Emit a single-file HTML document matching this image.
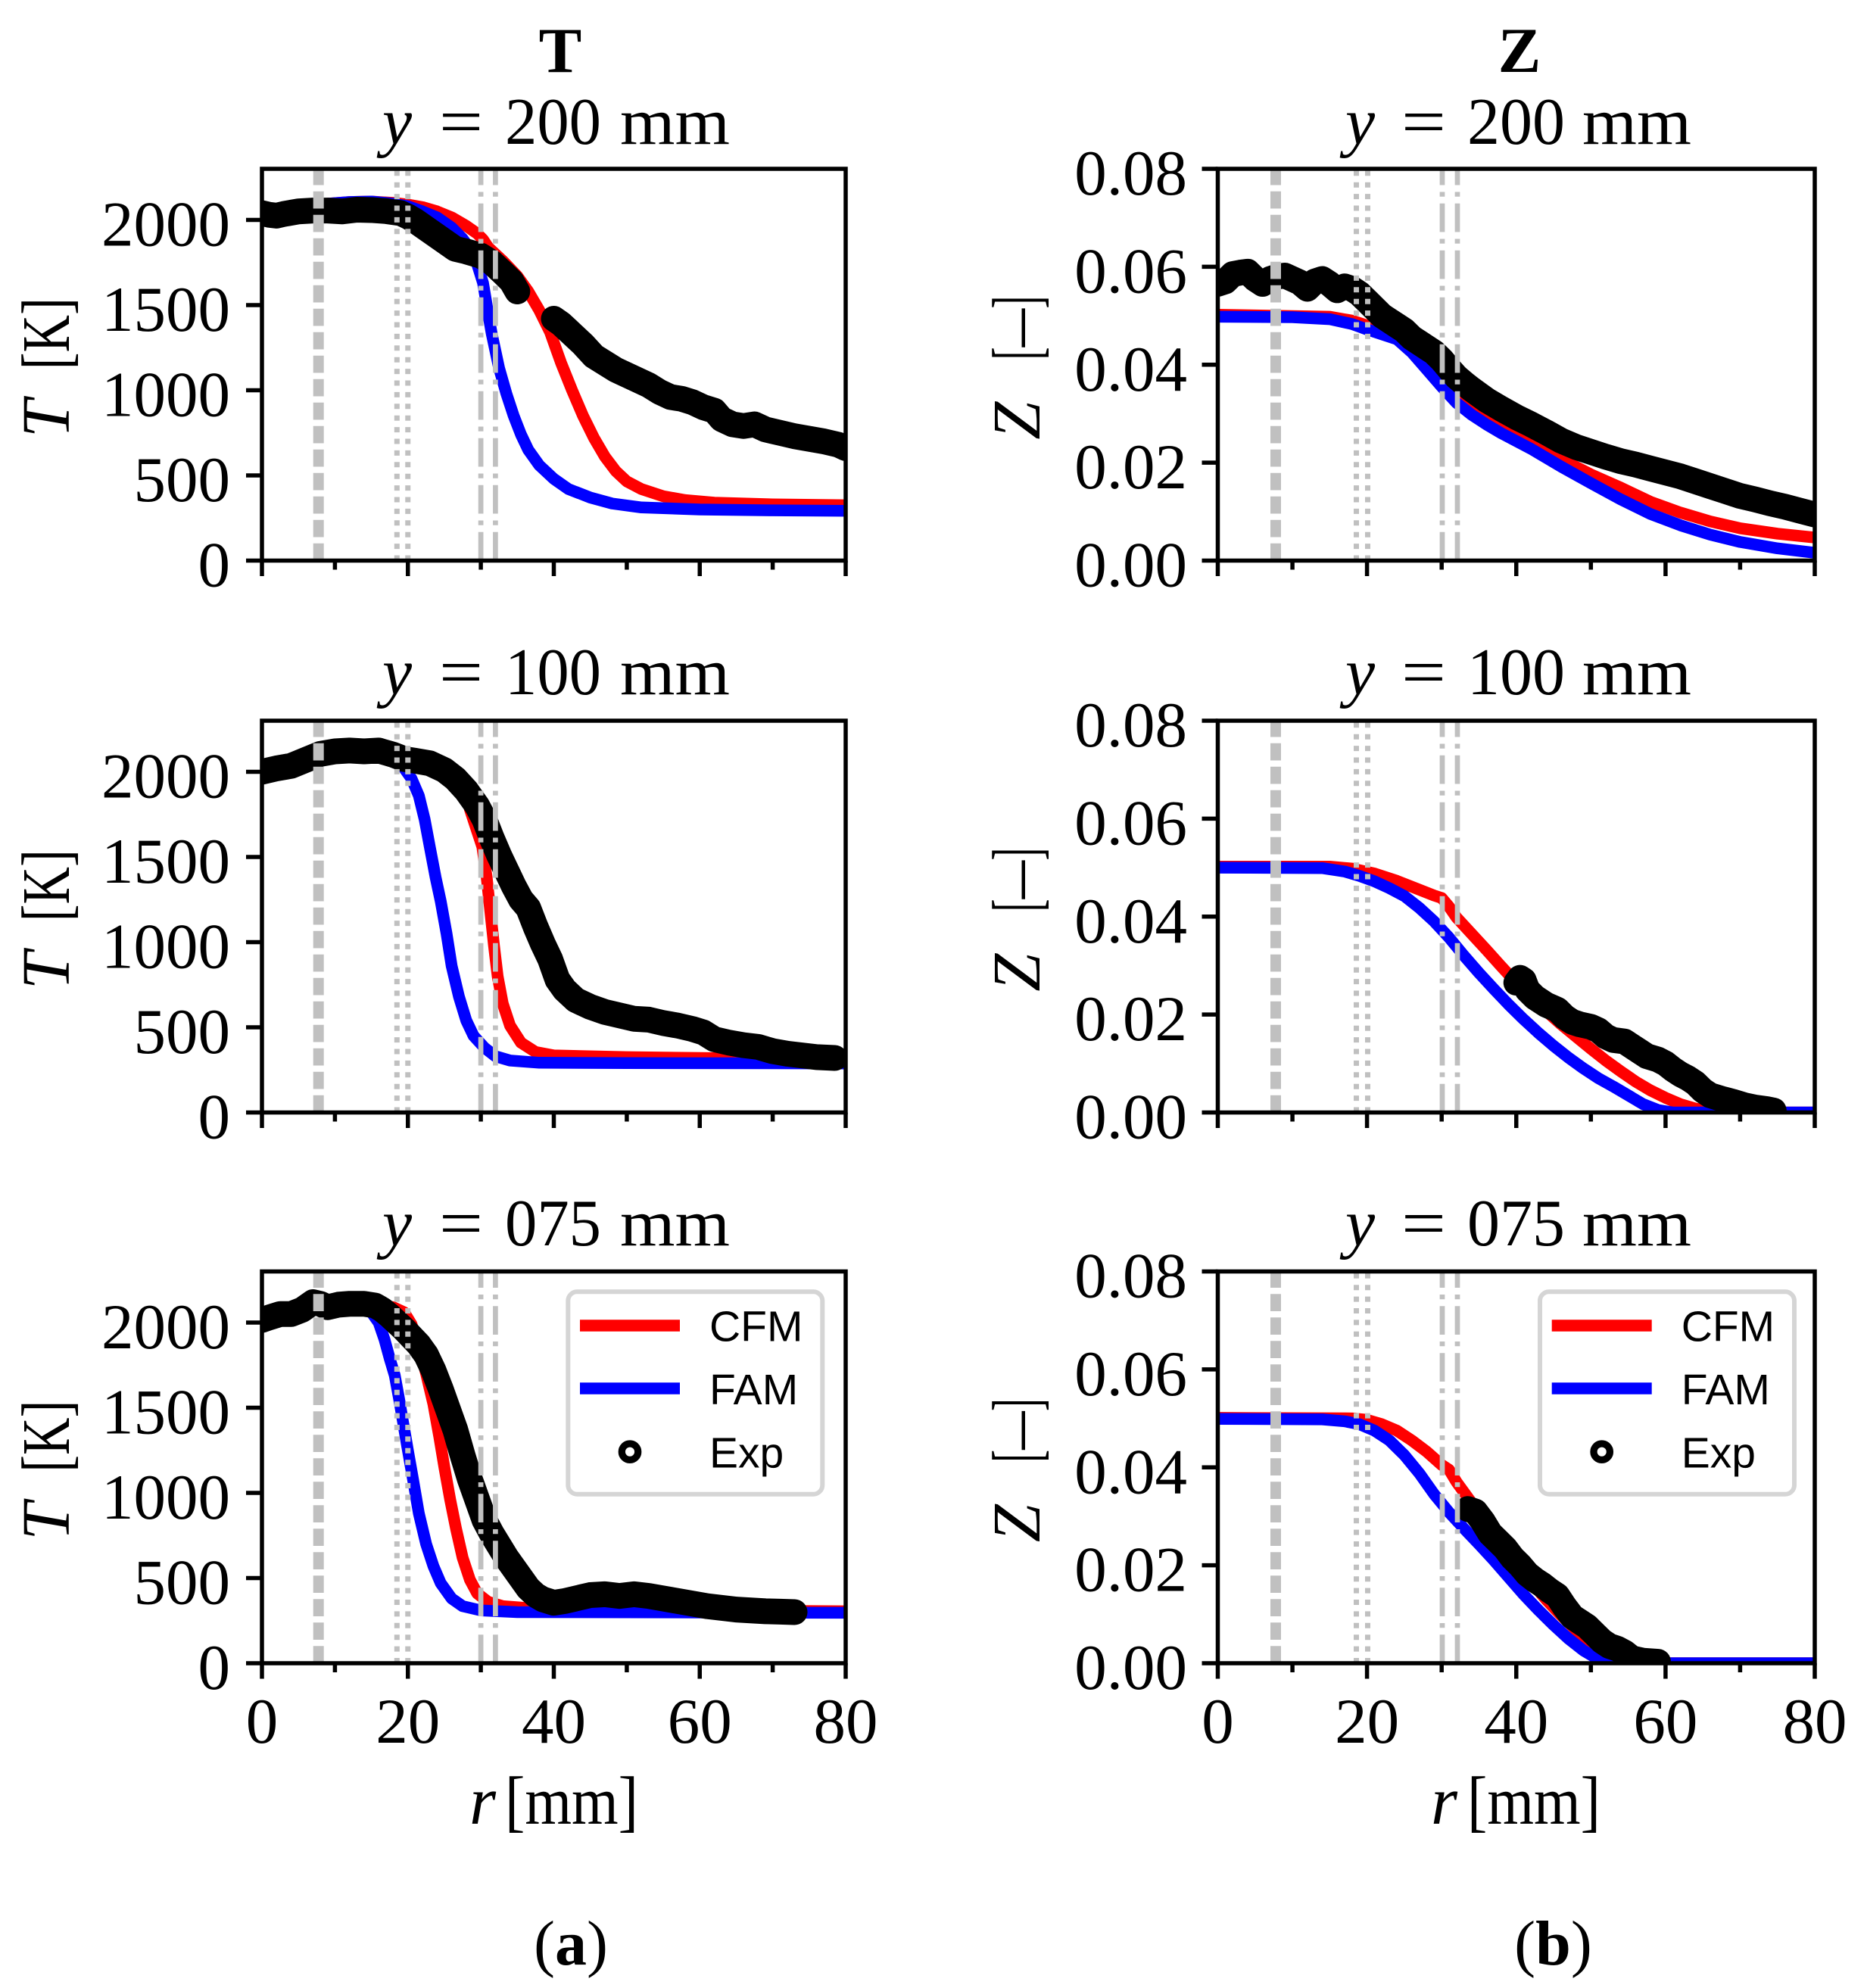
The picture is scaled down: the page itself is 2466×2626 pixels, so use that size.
<!DOCTYPE html>
<html><head><meta charset="utf-8">
<style>
html,body{margin:0;padding:0;background:#fff;}
svg{display:block;}
text{font-family:"Liberation Serif",serif;fill:#000;}
.sans{font-family:"Liberation Sans",sans-serif;}
.red{fill:none;stroke:#ff0000;stroke-width:15.5;stroke-linejoin:round;vector-effect:non-scaling-stroke;}
.blue{fill:none;stroke:#0000ff;stroke-width:15.5;stroke-linejoin:round;vector-effect:non-scaling-stroke;}
.exp{fill:none;stroke:#000;stroke-width:34;stroke-linejoin:round;stroke-linecap:round;vector-effect:non-scaling-stroke;}
.g1{stroke:#c0c0c0;stroke-width:14;stroke-dasharray:22.7 8.3;}
.g2{stroke:#c0c0c0;stroke-width:7;stroke-dasharray:7 8.4;}
.g3{stroke:#c0c0c0;stroke-width:6.7;stroke-dasharray:37.7 9 6.3 9;}
.ax{fill:none;stroke:#000;stroke-width:5.5;}
.tk{fill:none;stroke:#000;stroke-width:5.5;}
.tl{font-size:85px;}
.ttl{font-size:88px;}
</style></head><body>
<svg width="2466" height="2626" viewBox="0 0 2466 2626" xmlns="http://www.w3.org/2000/svg">
<defs>
<clipPath id="cL1"><rect x="346" y="223" width="771" height="517.5"/></clipPath>
<clipPath id="cL2"><rect x="346" y="952" width="771" height="517.5"/></clipPath>
<clipPath id="cL3"><rect x="346" y="1679.5" width="771" height="517.5"/></clipPath>
<clipPath id="cR1"><rect x="1608.5" y="223" width="788.5" height="517.5"/></clipPath>
<clipPath id="cR2"><rect x="1608.5" y="952" width="788.5" height="517.5"/></clipPath>
<clipPath id="cR3"><rect x="1608.5" y="1679.5" width="788.5" height="517.5"/></clipPath>
</defs>

<!-- Column headers -->
<text x="740" y="95" font-size="85" font-weight="bold" text-anchor="middle">T</text>
<text x="2007" y="95" font-size="85" font-weight="bold" text-anchor="middle">Z</text>

<!-- ============ LEFT TOP ============ -->
<g clip-path="url(#cL1)">
<g transform="translate(346 740.5) scale(9.6375 -0.225)">
<polyline class="red" points="0,2045 4,2065 8,2092 12,2105 15,2108 18,2100 20,2090 22,2075 24,2050 26,2015 28,1965 29.5,1920 30.3,1885 31,1840 33,1760 35,1670 36.5,1580 38,1470 39.5,1340 41,1160 42.5,1000 44,850 45.5,720 47,610 48.5,525 50,465 52,420 55,378 58,355 62,340 70,330 80,325"/>
<polyline class="blue" points="0,2045 4,2065 8,2092 12,2105 15,2108 18,2095 20,2080 22,2050 24,2015 26,1955 27.5,1890 28.5,1830 29.5,1740 30.3,1630 31,1450 31.5,1330 32.5,1130 33.5,980 34.5,850 35.5,740 36.5,650 38,560 40,480 42,420 45,370 48,335 52,312 60,300 70,295 80,292"/>
<polyline class="exp" points="0,2040 1,2030 2,2025 3,2035 5,2050 7,2055 9,2055 11,2050 13,2060 15,2058 17,2052 19,2040 20,2020 21,1995 22.5,1950 24,1905 25.5,1860 26.5,1830 28,1815 30,1790 31.5,1750 33,1690 34.2,1640 35,1580"/>
<polyline class="exp" points="40,1420 41,1390 42.5,1330 44,1270 45.5,1200 47,1160 48.5,1120 50,1090 51.5,1060 53,1030 54.5,990 56,960 57.5,950 59,930 60.5,900 62,880 63,830 64.5,800 66,790 67.5,800 69,770 71,750 73,730 75,715 77,700 79,680 80,660"/>
</g>
<line class="g1" x1="420.7" y1="740.5" x2="420.7" y2="223"/>
<line class="g2" x1="524.3" y1="740.5" x2="524.3" y2="223"/>
<line class="g2" x1="538.75" y1="740.5" x2="538.75" y2="223"/>
<line class="g3" x1="635.1" y1="740.5" x2="635.1" y2="223"/>
<line class="g3" x1="654.4" y1="740.5" x2="654.4" y2="223"/>
</g>
<rect class="ax" x="346" y="223" width="771" height="517.5"/>
<path class="tk" d="M346 740.5v20.5M538.75 740.5v20.5M731.5 740.5v20.5M924.25 740.5v20.5M1117 740.5v20.5M442.4 740.5v12M635.1 740.5v12M827.9 740.5v12M1020.6 740.5v12M346 740.5h-21M346 628h-21M346 515.5h-21M346 403h-21M346 290.5h-21"/>
<g class="tl" text-anchor="end">
<text x="304" y="774.5">0</text><text x="304" y="662">500</text><text x="304" y="549.5">1000</text><text x="304" y="437">1500</text><text x="304" y="324.5">2000</text>
</g>
<text x="505" y="190" class="ttl" font-style="italic">y</text>
<text x="580" y="190" class="ttl" textLength="58" lengthAdjust="spacingAndGlyphs">=</text>
<text x="667" y="190" class="ttl" textLength="127" lengthAdjust="spacingAndGlyphs">200</text>
<text x="819" y="190" class="ttl" textLength="145" lengthAdjust="spacingAndGlyphs">mm</text>
<g transform="translate(91 485.75) rotate(-90)">
<text x="-92.5" y="0" font-size="90" font-style="italic">T</text>
<text x="-2.5" y="0" font-size="90" textLength="95" lengthAdjust="spacingAndGlyphs">[K]</text>
</g>

<!-- ============ LEFT MIDDLE ============ -->
<g clip-path="url(#cL2)">
<g transform="translate(346 1469.5) scale(9.6375 -0.225)">
<polyline class="red" points="0,2000 4,2035 8,2095 12,2110 18,2105 21,2095 23.5,2075 25.5,2040 27,1980 28,1880 28.5,1780 29.5,1650 30.2,1560 30.8,1380 31.3,1180 31.8,980 32.3,800 33,640 34,510 35.5,410 37.5,355 40,335 50,325 60,320 80,312"/>
<polyline class="blue" points="0,2000 4,2035 8,2095 12,2110 18,2080 19.5,2020 20.5,1960 21.5,1860 22.3,1720 23,1560 23.8,1380 24.5,1240 25.3,1050 26,860 27,680 28,540 29,450 30.5,380 32,330 34,305 38,292 50,290 80,288"/>
<polyline class="exp" points="0,2000 2,2020 4,2035 6,2070 8,2105 10,2120 12,2125 14,2120 16,2125 18,2100 19.5,2075 21,2065 23,2050 25,2010 26.5,1960 28,1890 29.5,1800 30.5,1720 31.5,1610 32.5,1510 33.5,1420 34.5,1330 35.5,1250 36.5,1200 37.5,1090 38.5,990 39.5,900 40.5,780 41.5,720 43,660 45,620 47,590 49,570 51,550 53,545 55,525 57,510 59,490 60.5,470 62,430 64,410 66,395 68,385 70,360 72,345 74,335 76,325 78.5,320"/>
</g>
<line class="g1" x1="420.7" y1="1469.5" x2="420.7" y2="952"/>
<line class="g2" x1="524.3" y1="1469.5" x2="524.3" y2="952"/>
<line class="g2" x1="538.75" y1="1469.5" x2="538.75" y2="952"/>
<line class="g3" x1="635.1" y1="1469.5" x2="635.1" y2="952"/>
<line class="g3" x1="654.4" y1="1469.5" x2="654.4" y2="952"/>
</g>
<rect class="ax" x="346" y="952" width="771" height="517.5"/>
<path class="tk" d="M346 1469.5v20.5M538.75 1469.5v20.5M731.5 1469.5v20.5M924.25 1469.5v20.5M1117 1469.5v20.5M442.4 1469.5v12M635.1 1469.5v12M827.9 1469.5v12M1020.6 1469.5v12M346 1469.5h-21M346 1357h-21M346 1244.5h-21M346 1132h-21M346 1019.5h-21"/>
<g class="tl" text-anchor="end">
<text x="304" y="1503.5">0</text><text x="304" y="1391">500</text><text x="304" y="1278.5">1000</text><text x="304" y="1166">1500</text><text x="304" y="1053.5">2000</text>
</g>
<text x="505" y="917" class="ttl" font-style="italic">y</text>
<text x="580" y="917" class="ttl" textLength="58" lengthAdjust="spacingAndGlyphs">=</text>
<text x="667" y="917" class="ttl" textLength="127" lengthAdjust="spacingAndGlyphs">100</text>
<text x="819" y="917" class="ttl" textLength="145" lengthAdjust="spacingAndGlyphs">mm</text>
<g transform="translate(91 1214.75) rotate(-90)">
<text x="-92.5" y="0" font-size="90" font-style="italic">T</text>
<text x="-2.5" y="0" font-size="90" textLength="95" lengthAdjust="spacingAndGlyphs">[K]</text>
</g>

<!-- ============ LEFT BOTTOM ============ -->
<g clip-path="url(#cL3)">
<g transform="translate(346 2197) scale(9.6375 -0.225)">
<polyline class="red" points="0,2015 3,2045 6,2080 9,2100 12,2110 16,2105 18,2090 19.5,2060 20.5,1990 21.5,1860 22.5,1700 23.5,1520 24.3,1330 25,1150 25.8,960 26.6,790 27.5,620 28.5,490 29.5,410 31,360 33,335 36,325 45,315 80,305"/>
<polyline class="blue" points="0,2015 3,2045 6,2080 9,2100 12,2108 14,2100 15,2060 16,2000 16.8,1900 17.5,1790 18.2,1690 18.8,1550 19.4,1400 20,1250 20.7,1080 21.5,880 22.5,700 23.5,570 24.5,470 26,380 27.5,335 30,310 35,300 80,296"/>
<polyline class="exp" points="0,2015 1,2030 2.5,2050 4,2050 5.5,2075 7,2120 8,2110 9,2090 10.5,2105 12,2110 14,2110 15.5,2100 16.5,2075 17.5,2040 18.5,2000 19.5,1960 20.5,1915 21.5,1870 22.5,1810 23.5,1720 24.5,1610 25.5,1490 26.5,1370 27.5,1220 28.5,1080 29.5,960 30.5,840 31.5,760 32.5,690 33.5,620 34.5,560 35.5,500 36.5,440 37.5,400 38.5,375 40,355 41.5,365 43,380 45,400 47,405 49,395 51,405 53,395 55,380 57,365 59,350 61,335 63,325 65,315 67,310 69,305 71,303 73,300"/>
</g>
<line class="g1" x1="420.7" y1="2197" x2="420.7" y2="1679.5"/>
<line class="g2" x1="524.3" y1="2197" x2="524.3" y2="1679.5"/>
<line class="g2" x1="538.75" y1="2197" x2="538.75" y2="1679.5"/>
<line class="g3" x1="635.1" y1="2197" x2="635.1" y2="1679.5"/>
<line class="g3" x1="654.4" y1="2197" x2="654.4" y2="1679.5"/>
</g>
<rect class="ax" x="346" y="1679.5" width="771" height="517.5"/>
<path class="tk" d="M346 2197v20.5M538.75 2197v20.5M731.5 2197v20.5M924.25 2197v20.5M1117 2197v20.5M442.4 2197v12M635.1 2197v12M827.9 2197v12M1020.6 2197v12M346 2197h-21M346 2084.5h-21M346 1972h-21M346 1859.5h-21M346 1747h-21"/>
<g class="tl" text-anchor="end">
<text x="304" y="2231">0</text><text x="304" y="2118.5">500</text><text x="304" y="2006">1000</text><text x="304" y="1893.5">1500</text><text x="304" y="1781">2000</text>
</g>
<g class="tl" text-anchor="middle">
<text x="346" y="2302">0</text><text x="538.75" y="2302">20</text><text x="731.5" y="2302">40</text><text x="924.25" y="2302">60</text><text x="1117" y="2302">80</text>
</g>
<text x="505" y="1645" class="ttl" font-style="italic">y</text>
<text x="580" y="1645" class="ttl" textLength="58" lengthAdjust="spacingAndGlyphs">=</text>
<text x="667" y="1645" class="ttl" textLength="127" lengthAdjust="spacingAndGlyphs">075</text>
<text x="819" y="1645" class="ttl" textLength="145" lengthAdjust="spacingAndGlyphs">mm</text>
<g transform="translate(91 1942.25) rotate(-90)">
<text x="-92.5" y="0" font-size="90" font-style="italic">T</text>
<text x="-2.5" y="0" font-size="90" textLength="95" lengthAdjust="spacingAndGlyphs">[K]</text>
</g>
<text x="620" y="2409" font-size="90" font-style="italic">r</text>
<text x="667" y="2409" font-size="90" textLength="176" lengthAdjust="spacingAndGlyphs">[mm]</text>
<text x="754" y="2595" font-size="84" text-anchor="middle">(<tspan font-weight="bold">a</tspan>)</text>

<!-- left legend -->
<rect x="750.3" y="1706.3" width="336" height="267.4" rx="12" fill="#fff" stroke="#d5d5d5" stroke-width="6"/>
<line x1="766" y1="1751" x2="898" y2="1751" stroke="#ff0000" stroke-width="15.4"/>
<line x1="766" y1="1834" x2="898" y2="1834" stroke="#0000ff" stroke-width="15.4"/>
<circle cx="832" cy="1917.7" r="10.7" fill="none" stroke="#000" stroke-width="9.3"/>
<text class="sans" x="937" y="1771.7" font-size="57">CFM</text>
<text class="sans" x="937" y="1855" font-size="57">FAM</text>
<text class="sans" x="937" y="1938.3" font-size="57">Exp</text>

<!-- ============ RIGHT TOP ============ -->
<g clip-path="url(#cR1)">
<g transform="translate(1608.5 740.5) scale(9.85625 -6468.75)">
<polyline class="red" points="0,0.0502 15,0.0498 18,0.049 20,0.048 22,0.047 24,0.0458 26,0.0432 28,0.0397 30,0.0362 32,0.033 34,0.0306 36,0.0286 38,0.0268 42,0.0238 46,0.0207 50,0.0176 54,0.0149 58,0.012 62,0.0098 66,0.008 70,0.0066 75,0.0055 80,0.0047"/>
<polyline class="blue" points="0,0.0498 10,0.0497 15,0.0493 18,0.0483 20,0.0472 22,0.0462 24,0.0452 26,0.0425 28,0.039 30,0.0355 32,0.0322 34,0.0298 36,0.0278 38,0.026 42,0.0228 46,0.0192 50,0.0158 54,0.0125 58,0.0095 62,0.0072 66,0.0053 70,0.0038 75,0.0025 80,0.0016"/>
<polyline class="exp" points="0,0.0565 1,0.057 2,0.0585 3,0.0588 4,0.059 5,0.0575 6,0.0565 7,0.0575 8,0.058 9,0.0582 10,0.0575 11,0.0568 12,0.0555 13,0.057 14,0.0575 15,0.0565 16,0.0552 17,0.056 18,0.0555 19,0.0545 20,0.053 21,0.0515 22,0.05 23,0.049 24,0.048 25,0.047 26,0.0455 27,0.0445 28,0.0435 29,0.0425 30,0.041 31,0.0392 32,0.0375 33,0.0362 34,0.035 36,0.0328 38,0.031 40,0.0293 42,0.0278 44,0.0262 46,0.0245 48,0.0232 50,0.0222 52,0.0212 54,0.0203 56,0.0196 58,0.0188 60,0.018 62,0.0172 64,0.0162 66,0.0152 68,0.0142 70,0.0132 72,0.0125 74,0.0117 76,0.011 78,0.0102 80,0.0094"/>
</g>
<line class="g1" x1="1685" y1="740.5" x2="1685" y2="223"/>
<line class="g2" x1="1791.5" y1="740.5" x2="1791.5" y2="223"/>
<line class="g2" x1="1806.5" y1="740.5" x2="1806.5" y2="223"/>
<line class="g3" x1="1905" y1="740.5" x2="1905" y2="223"/>
<line class="g3" x1="1925" y1="740.5" x2="1925" y2="223"/>
</g>
<rect class="ax" x="1608.5" y="223" width="788.5" height="517.5"/>
<path class="tk" d="M1608.5 740.5v20.5M1805.6 740.5v20.5M2002.75 740.5v20.5M2199.9 740.5v20.5M2397 740.5v20.5M1707.1 740.5v12M1904.2 740.5v12M2101.3 740.5v12M2298.4 740.5v12M1608.5 740.5h-21M1608.5 611.1h-21M1608.5 481.75h-21M1608.5 352.4h-21M1608.5 223h-21"/>
<g class="tl" text-anchor="end">
<text x="1568" y="774.5">0.00</text><text x="1568" y="645.1">0.02</text><text x="1568" y="515.75">0.04</text><text x="1568" y="386.4">0.06</text><text x="1568" y="257">0.08</text>
</g>
<text x="1777" y="190" class="ttl" font-style="italic">y</text>
<text x="1851" y="190" class="ttl" textLength="59" lengthAdjust="spacingAndGlyphs">=</text>
<text x="1938" y="190" class="ttl" textLength="129" lengthAdjust="spacingAndGlyphs">200</text>
<text x="2090" y="190" class="ttl" textLength="144" lengthAdjust="spacingAndGlyphs">mm</text>
<g transform="translate(1373 485.75) rotate(-90)">
<text x="-95" y="0" font-size="90" font-style="italic">Z</text>
<text x="10.5" y="0" font-size="90" textLength="84.5" lengthAdjust="spacingAndGlyphs">[—]</text>
</g>

<!-- ============ RIGHT MIDDLE ============ -->
<g clip-path="url(#cR2)">
<g transform="translate(1608.5 1469.5) scale(9.85625 -6468.75)">
<polyline class="red" points="0,0.0502 15,0.0502 18,0.0498 21,0.0488 24,0.0473 27,0.0455 29,0.0443 30,0.0438 31,0.042 32,0.0398 34,0.0365 36,0.0332 38,0.0298 40,0.0265 42,0.0235 44,0.0207 46,0.018 48,0.0155 50,0.013 52,0.0106 54,0.0084 56,0.0063 58,0.0045 60,0.003 62,0.0017 64,0.0008 66,0.0003 68,0 80,0"/>
<polyline class="blue" points="0,0.05 14,0.0499 17,0.0492 19,0.0483 21,0.0472 23,0.0458 25,0.0442 27,0.0418 29,0.039 31,0.0357 33,0.032 35,0.0285 37,0.0252 39,0.022 41,0.019 43,0.0162 45,0.0136 47,0.0112 49,0.009 51,0.007 53,0.0053 55,0.0035 57,0.0017 59,0.0005 61,0 80,0"/>
<polyline class="exp" points="40,0.0265 40.5,0.0275 41,0.027 41.5,0.025 42.5,0.0235 44,0.022 45.5,0.021 46.5,0.0195 47.5,0.0185 48.5,0.018 50,0.0175 51,0.0168 52,0.0155 53,0.0148 54.5,0.0145 55.5,0.0135 56.5,0.0125 57.5,0.0115 59,0.0108 60,0.01 61,0.0088 62,0.0078 63,0.007 64,0.006 65,0.0045 66,0.0035 67.5,0.0028 69,0.0022 70.5,0.0015 72,0.001 73.5,0.0007 74.5,0.0004"/>
</g>
<line class="g1" x1="1685" y1="1469.5" x2="1685" y2="952"/>
<line class="g2" x1="1791.5" y1="1469.5" x2="1791.5" y2="952"/>
<line class="g2" x1="1806.5" y1="1469.5" x2="1806.5" y2="952"/>
<line class="g3" x1="1905" y1="1469.5" x2="1905" y2="952"/>
<line class="g3" x1="1925" y1="1469.5" x2="1925" y2="952"/>
</g>
<rect class="ax" x="1608.5" y="952" width="788.5" height="517.5"/>
<path class="tk" d="M1608.5 1469.5v20.5M1805.6 1469.5v20.5M2002.75 1469.5v20.5M2199.9 1469.5v20.5M2397 1469.5v20.5M1707.1 1469.5v12M1904.2 1469.5v12M2101.3 1469.5v12M2298.4 1469.5v12M1608.5 1469.5h-21M1608.5 1340.1h-21M1608.5 1210.75h-21M1608.5 1081.4h-21M1608.5 952h-21"/>
<g class="tl" text-anchor="end">
<text x="1568" y="1503.5">0.00</text><text x="1568" y="1374.1">0.02</text><text x="1568" y="1244.75">0.04</text><text x="1568" y="1115.4">0.06</text><text x="1568" y="986">0.08</text>
</g>
<text x="1777" y="917" class="ttl" font-style="italic">y</text>
<text x="1851" y="917" class="ttl" textLength="59" lengthAdjust="spacingAndGlyphs">=</text>
<text x="1938" y="917" class="ttl" textLength="129" lengthAdjust="spacingAndGlyphs">100</text>
<text x="2090" y="917" class="ttl" textLength="144" lengthAdjust="spacingAndGlyphs">mm</text>
<g transform="translate(1373 1214.75) rotate(-90)">
<text x="-95" y="0" font-size="90" font-style="italic">Z</text>
<text x="10.5" y="0" font-size="90" textLength="84.5" lengthAdjust="spacingAndGlyphs">[—]</text>
</g>

<!-- ============ RIGHT BOTTOM ============ -->
<g clip-path="url(#cR3)">
<g transform="translate(1608.5 2197) scale(9.85625 -6468.75)">
<polyline class="red" points="0,0.0501 18,0.05 20,0.0497 22,0.0488 24,0.0475 26,0.0455 28,0.0432 30,0.0405 31,0.0395 32,0.037 34,0.0328 36,0.029 38,0.0245 40,0.0205 42,0.0166 44,0.013 46,0.0098 48,0.0068 50,0.0042 52,0.0022 54,0.0008 56,0.0002 58,0 80,0"/>
<polyline class="blue" points="0,0.0499 14,0.0498 17,0.0494 19,0.0488 21,0.0475 23,0.0455 25,0.0425 27,0.0388 29,0.0345 31,0.0308 33,0.0275 35,0.0243 37,0.021 39,0.0175 41,0.014 43,0.0108 45,0.0078 47,0.005 49,0.0026 51,0.0008 52.5,0 80,0"/>
<polyline class="exp" points="33.5,0.0315 34.5,0.031 35.5,0.029 36.5,0.0265 37.5,0.025 38.5,0.0235 39.5,0.0215 40.5,0.02 41.5,0.0182 42.5,0.017 43.5,0.016 44.5,0.0148 45.5,0.0138 46.5,0.0115 47.5,0.0095 48.5,0.0085 49.5,0.0075 50.5,0.006 51.5,0.0045 52.5,0.0035 53.5,0.003 54.5,0.0022 55.5,0.001 57,0.0005 59,0.0003"/>
</g>
<line class="g1" x1="1685" y1="2197" x2="1685" y2="1679.5"/>
<line class="g2" x1="1791.5" y1="2197" x2="1791.5" y2="1679.5"/>
<line class="g2" x1="1806.5" y1="2197" x2="1806.5" y2="1679.5"/>
<line class="g3" x1="1905" y1="2197" x2="1905" y2="1679.5"/>
<line class="g3" x1="1925" y1="2197" x2="1925" y2="1679.5"/>
</g>
<rect class="ax" x="1608.5" y="1679.5" width="788.5" height="517.5"/>
<path class="tk" d="M1608.5 2197v20.5M1805.6 2197v20.5M2002.75 2197v20.5M2199.9 2197v20.5M2397 2197v20.5M1707.1 2197v12M1904.2 2197v12M2101.3 2197v12M2298.4 2197v12M1608.5 2197h-21M1608.5 2067.6h-21M1608.5 1938.25h-21M1608.5 1808.9h-21M1608.5 1679.5h-21"/>
<g class="tl" text-anchor="end">
<text x="1568" y="2231">0.00</text><text x="1568" y="2101.6">0.02</text><text x="1568" y="1972.25">0.04</text><text x="1568" y="1842.9">0.06</text><text x="1568" y="1713.5">0.08</text>
</g>
<g class="tl" text-anchor="middle">
<text x="1608.5" y="2302">0</text><text x="1805.6" y="2302">20</text><text x="2002.75" y="2302">40</text><text x="2199.9" y="2302">60</text><text x="2397" y="2302">80</text>
</g>
<text x="1777" y="1645" class="ttl" font-style="italic">y</text>
<text x="1851" y="1645" class="ttl" textLength="59" lengthAdjust="spacingAndGlyphs">=</text>
<text x="1938" y="1645" class="ttl" textLength="129" lengthAdjust="spacingAndGlyphs">075</text>
<text x="2090" y="1645" class="ttl" textLength="144" lengthAdjust="spacingAndGlyphs">mm</text>
<g transform="translate(1373 1942.25) rotate(-90)">
<text x="-95" y="0" font-size="90" font-style="italic">Z</text>
<text x="10.5" y="0" font-size="90" textLength="84.5" lengthAdjust="spacingAndGlyphs">[—]</text>
</g>
<text x="1890" y="2409" font-size="90" font-style="italic">r</text>
<text x="1938" y="2409" font-size="90" textLength="176" lengthAdjust="spacingAndGlyphs">[mm]</text>
<text x="2051.5" y="2595" font-size="84" text-anchor="middle">(<tspan font-weight="bold">b</tspan>)</text>

<!-- right legend -->
<rect x="2034" y="1706.3" width="336" height="267.4" rx="12" fill="#fff" stroke="#d5d5d5" stroke-width="6"/>
<line x1="2049.7" y1="1751" x2="2181.7" y2="1751" stroke="#ff0000" stroke-width="15.4"/>
<line x1="2049.7" y1="1834" x2="2181.7" y2="1834" stroke="#0000ff" stroke-width="15.4"/>
<circle cx="2115.7" cy="1917.7" r="10.7" fill="none" stroke="#000" stroke-width="9.3"/>
<text class="sans" x="2220.7" y="1771.7" font-size="57">CFM</text>
<text class="sans" x="2220.7" y="1855" font-size="57">FAM</text>
<text class="sans" x="2220.7" y="1938.3" font-size="57">Exp</text>
</svg>
</body></html>
